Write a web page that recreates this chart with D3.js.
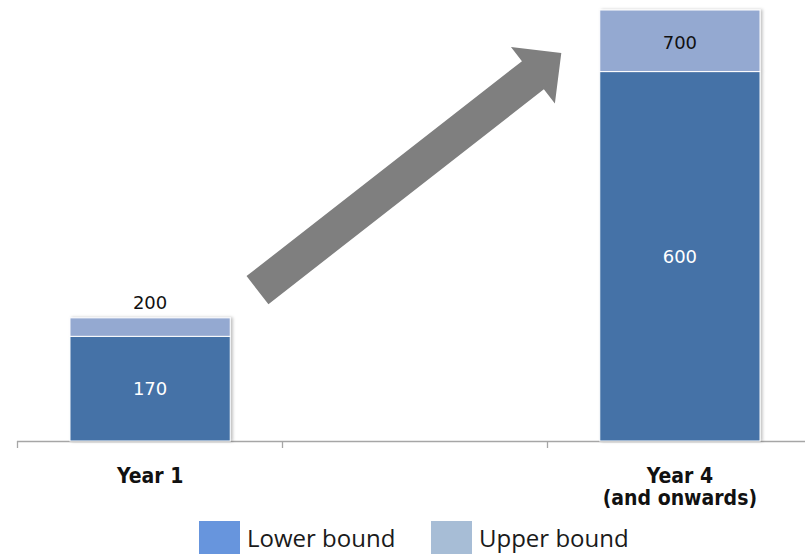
<!DOCTYPE html>
<html>
<head>
<meta charset="utf-8">
<script src="https://cdn.jsdelivr.net/npm/d3@7"></script>
<style>
  html, body { margin: 0; padding: 0; background: #fff; }
  svg { display: block; }
</style>
</head>
<body>
<svg id="chart" width="805" height="554"></svg>
<script>
// ---- data ----
const categories = ["Year 1", "gap", "Year 4"];
const categoryLabels = [["Year 1"], [], ["Year 4", "(and onwards)"]];
const lowerBound = [170, null, 600];
const upperBound = [200, null, 700];
const seriesNames = ["Lower bound", "Upper bound"];
// arrow annotation in data space: [category, offset in bandwidths, value]
const arrowFrom = ["Year 1", 1.17, 245];
const arrowTo = ["Year 4", -0.24, 630];

// ---- layout ----
const W = 805, H = 554;
const svg = d3.select("#chart");
const x = d3.scaleBand().domain(categories).range([17, 813]).paddingInner(0.395).paddingOuter(0.2);
const y = d3.scaleLinear().domain([0, 700]).range([441, 10]);

const colLower = "#4572a7", colUpper = "#94a9d1";
const legLower = "#6795dd", legUpper = "#a7bdd6";

const defs = svg.append("defs");
const f = defs.append("filter").attr("id", "sh").attr("x", "-10%").attr("y", "-10%").attr("width", "130%").attr("height", "130%");
f.append("feDropShadow").attr("dx", 2).attr("dy", 0).attr("stdDeviation", 1.5).attr("flood-color", "#000").attr("flood-opacity", 0.25);

// axis line + ticks at band boundaries
const axisY = y(0);
svg.append("line").attr("x1", 17).attr("x2", W).attr("y1", axisY + 0.5).attr("y2", axisY + 0.5)
  .attr("stroke", "#a6a6a6").attr("stroke-width", 1.3);
const step = x.step();
const tickXs = d3.range(categories.length + 1).map(i => x.range()[0] + i * step);
svg.selectAll("line.tick").data(tickXs).join("line").attr("class", "tick")
  .attr("x1", d => Math.round(d) + 0.5).attr("x2", d => Math.round(d) + 0.5)
  .attr("y1", axisY).attr("y2", axisY + 7).attr("stroke", "#a6a6a6").attr("stroke-width", 1.3);

// bars
const rows = categories.map((c, i) => ({ c, lo: lowerBound[i], hi: upperBound[i] })).filter(d => d.lo != null);
const g = svg.append("g");
rows.forEach(d => {
  const bx = x(d.c), bw = x.bandwidth();
  const grp = g.append("g").attr("filter", "url(#sh)");
  grp.append("rect").attr("x", bx).attr("width", bw).attr("y", y(d.lo)).attr("height", y(0) - y(d.lo))
    .attr("fill", colLower).attr("stroke", "#fff").attr("stroke-width", 1);
  grp.append("rect").attr("x", bx).attr("width", bw).attr("y", y(d.hi)).attr("height", y(d.lo) - y(d.hi))
    .attr("fill", colUpper).attr("stroke", "#fff").attr("stroke-width", 1);
  // labels
  g.append("text").attr("x", bx + bw / 2).attr("y", (y(d.lo) + y(0)) / 2).attr("dy", "0.36em")
    .attr("text-anchor", "middle").attr("fill", "#fff")
    .style("font", "18px 'DejaVu Sans'").text(d.lo);
  const segH = y(d.lo) - y(d.hi);
  const ly = segH < 24 ? y(d.hi) - 15 : (y(d.hi) + y(d.lo)) / 2 + 2;
  g.append("text").attr("x", bx + bw / 2).attr("y", ly).attr("dy", "0.36em")
    .attr("text-anchor", "middle").attr("fill", "#111")
    .style("font", "18px 'DejaVu Sans'").text(d.hi);
});

// category labels
categories.forEach((c, i) => {
  const lines = categoryLabels[i];
  if (!lines.length) return;
  const t = svg.append("text").attr("x", x(c) + x.bandwidth() / 2).attr("y", 483)
    .attr("text-anchor", "middle").attr("fill", "#111")
    .style("font", "bold 21px 'DejaVu Sans Condensed', 'DejaVu Sans'");
  lines.forEach((l, j) => t.append("tspan").attr("x", x(c) + x.bandwidth() / 2).attr("dy", j ? 22 : 0).text(l));
});

// arrow annotation
(function () {
  const p0 = [x(arrowFrom[0]) + arrowFrom[1] * x.bandwidth(), y(arrowFrom[2])];
  const p1 = [x(arrowTo[0]) + arrowTo[1] * x.bandwidth(), y(arrowTo[2])];
  const dx = p1[0] - p0[0], dy = p1[1] - p0[1], L = Math.hypot(dx, dy);
  const ux = dx / L, uy = dy / L, nx = -uy, ny = ux;
  const sw = 35.6 / 2, hw = 71.4 / 2, hl = 36;
  const b = [p1[0] - ux * hl, p1[1] - uy * hl];
  const pts = [
    [p0[0] + nx * sw, p0[1] + ny * sw],
    [b[0] + nx * sw, b[1] + ny * sw],
    [b[0] + nx * hw, b[1] + ny * hw],
    p1,
    [b[0] - nx * hw, b[1] - ny * hw],
    [b[0] - nx * sw, b[1] - ny * sw],
    [p0[0] - nx * sw, p0[1] - ny * sw]
  ];
  svg.append("path").attr("d", d3.line()(pts) + "Z").attr("fill", "#7f7f7f");
})();

// legend
const leg = svg.append("g");
const legItems = [{ n: seriesNames[0], c: legLower, x: 199 }, { n: seriesNames[1], c: legUpper, x: 431 }];
legItems.forEach(it => {
  leg.append("rect").attr("x", it.x).attr("y", 521).attr("width", 41).attr("height", 33).attr("fill", it.c);
  leg.append("text").attr("x", it.x + 48).attr("y", 547).attr("fill", "#1a1a1a")
    .style("font", "24px 'Open Sans'").text(it.n);
});
</script>
</body>
</html>
